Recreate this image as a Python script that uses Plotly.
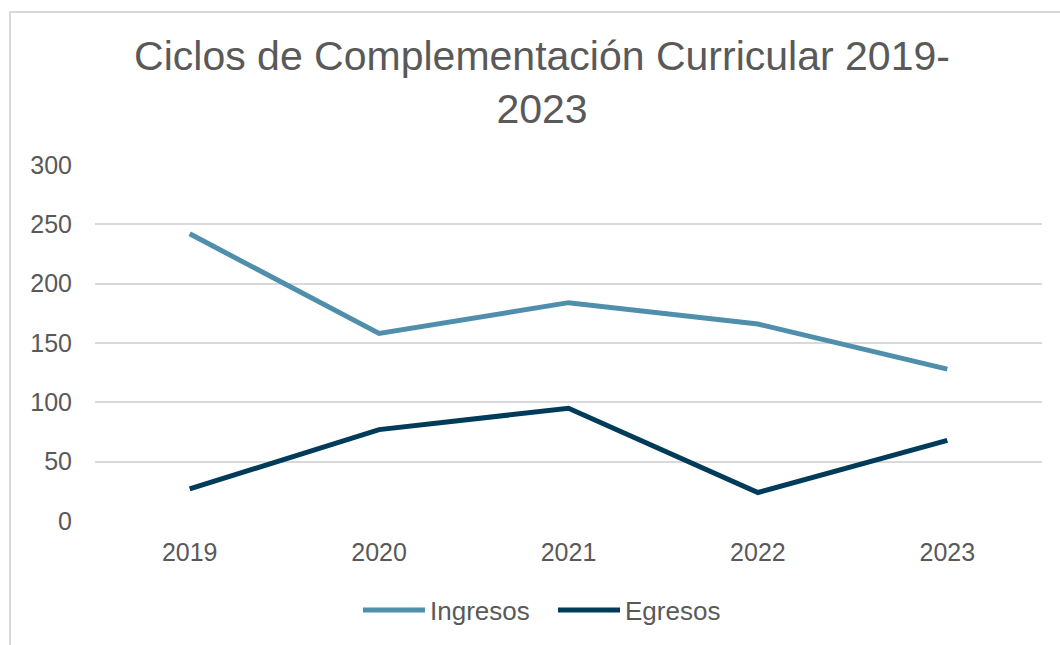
import plotly.graph_objects as go

years = ["2019", "2020", "2021", "2022", "2023"]
ingresos = [242, 158, 184, 166, 128]
egresos = [27, 77, 95, 24, 68]
y_ticks = [0, 50, 100, 150, 200, 250, 300]

W, H = 1060, 645
L, R, T, B = 95, 18, 165, 124
pw, ph = W - L - R, H - T - B

def px_x(x):
    return (x - L) / pw

def px_y(y):
    return (H - B - y) / ph

fig = go.Figure()
fig.add_trace(go.Scatter(x=years, y=ingresos, name="Ingresos", mode="lines",
                         line=dict(color="#4f8fab", width=5)))
fig.add_trace(go.Scatter(x=years, y=egresos, name="Egresos", mode="lines",
                         line=dict(color="#003b5a", width=5)))

fig.update_layout(
    width=W, height=H,
    margin=dict(l=L, r=R, t=T, b=B, autoexpand=False),
    paper_bgcolor="white", plot_bgcolor="white",
    font=dict(family="Liberation Sans, Arial, sans-serif", color="#595959", size=26),
    title=dict(text="Ciclos de Complementación Curricular 2019-<br>2023",
               x=542 / W, xanchor="center", xref="container",
               y=1 - 70 / H, yanchor="top", yref="container",
               font=dict(size=41, color="#595959")),
    showlegend=True,
    legend=dict(orientation="h", x=px_x(553), xanchor="center",
                y=px_y(610), yanchor="middle",
                font=dict(size=26, color="#595959"),
                itemwidth=62, entrywidth=118, entrywidthmode="pixels",
                traceorder="normal"),
    xaxis=dict(type="category", range=[-0.5, 4.5], showgrid=False, zeroline=False,
               showline=False, ticks="", ticklabelstandoff=14,
               tickfont=dict(size=25, color="#595959")),
    yaxis=dict(range=[0, 300], tickvals=y_ticks, showgrid=True,
               gridcolor="#d9d9d9", gridwidth=1.5, zeroline=False,
               showline=False, ticks="", ticklabelstandoff=22,
               tickfont=dict(size=25, color="#595959")),
    shapes=[dict(type="rect", xref="paper", yref="paper",
                 x0=px_x(10), x1=px_x(1070), y0=px_y(660), y1=px_y(12),
                 line=dict(color="#d9d9d9", width=2), fillcolor="rgba(0,0,0,0)",
                 layer="below")],
)

fig.write_html("out.html", config={"displayModeBar": False},
               post_script="document.body.style.margin='0';")
